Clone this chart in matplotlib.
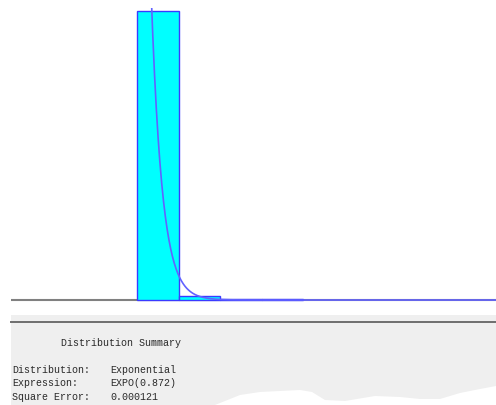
import numpy as np
import matplotlib
matplotlib.use("Agg")
import matplotlib.pyplot as plt
from matplotlib.patches import Rectangle, Polygon

# histogram (relative frequency per bin) and fitted exponential
bin_edges = [0.0, 3.32, 6.64, 9.96, 13.28]
rel_freq = [0.978, 0.0136, 0.004, 0.003]
expo_mean = 0.872

summary_rows = [
    ("Distribution:", "Exponential"),
    ("Expression:", "EXPO(0.872)"),
    ("Square Error:", "0.000121"),
]

W, H = 496, 405
fig = plt.figure(figsize=(W / 100, H / 100), dpi=100)
fig.patch.set_facecolor("white")

def fx(px):
    return px / W

def fy(py):
    return 1 - py / H

# histogram area
ax = fig.add_axes([fx(11), fy(302), fx(485), 294 / H])
ax.set_xlim(-10.08, 28.72)
ax.axis("off")

widths = np.diff(bin_edges)
ax.axhline(0, color="#808080", lw=1.5, zorder=1)
ax.bar(bin_edges[:-1], rel_freq, width=widths, align="edge",
       color="#00ffff", edgecolor="#3a3aff", linewidth=1.0, zorder=2)

xs = np.linspace(0, 28.72, 800)
curve = widths[0] / expo_mean * np.exp(-xs / expo_mean)
ax.plot(xs, curve, color="#6262ff", lw=1.2, zorder=3)
# baseline sits 2px above the axes bottom so the thick line is not clipped
ax.set_ylim(-0.0067, 0.988)

# summary panel
fig.patches.append(Rectangle((fx(11), 0), 1 - fx(11), fy(315), transform=fig.transFigure,
                             facecolor="#efefef", edgecolor="none", zorder=0))
fig.lines.append(plt.Line2D([fx(11), 1], [fy(321.5), fy(321.5)], transform=fig.transFigure,
                            color="#6e6e6e", lw=1.4))

mono = "Liberation Mono"
tc = "#2a2a2a"
fs = 7.2
fig.text(fx(61), fy(343), "Distribution Summary", family=mono, fontsize=fs,
         color=tc, va="center")
for i, (lab, val) in enumerate(summary_rows):
    y = fy(370 + i * 13.5)
    fig.text(fx(12), y, lab, family=mono, fontsize=fs, color=tc, va="center")
    fig.text(fx(110), y, val, family=mono, fontsize=fs, color=tc, va="center")

# torn edge at the bottom
edge = [(215, 405), (240, 395), (260, 392), (300, 390), (312, 392), (325, 400),
        (345, 401), (375, 396), (400, 397), (420, 399), (440, 399), (460, 393),
        (480, 389), (496, 386), (496, 405)]
fig.patches.append(Polygon([(fx(x), fy(y)) for x, y in edge], closed=True,
                           transform=fig.transFigure, facecolor="white",
                           edgecolor="none", zorder=5))

fig.savefig("out.png", dpi=100)
